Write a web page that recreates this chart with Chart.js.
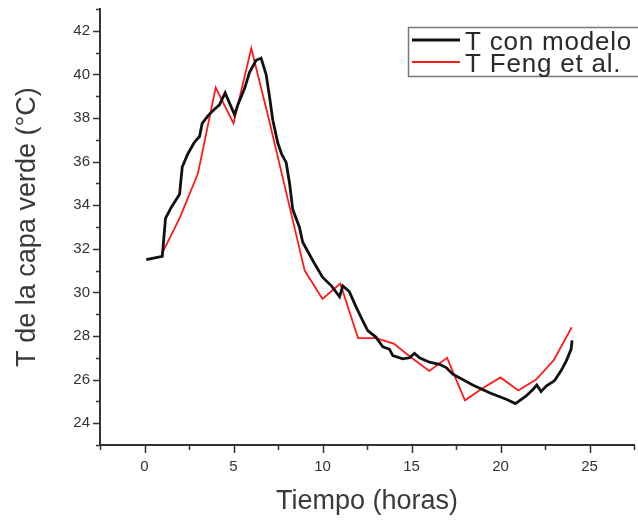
<!DOCTYPE html>
<html>
<head>
<meta charset="utf-8">
<script src="https://cdn.jsdelivr.net/npm/chart.js@4/dist/chart.umd.min.js"></script>
<style>
html,body{margin:0;padding:0;background:#fff;}
#wrap{width:638px;height:523px;}
</style>
</head>
<body>
<div id="wrap"><canvas id="c" width="638" height="523"></canvas></div>
<script>
// Series: T con modelo (model) — hours and temperatures
const modelHours = [0.1, 1.0, 1.18, 1.5, 1.97, 2.12, 2.43, 2.81, 3.09, 3.24, 3.56, 3.93, 4.21, 4.53,
  5.06, 5.24, 5.62, 5.9, 6.27, 6.55, 6.83, 7.02, 7.21, 7.49, 7.7, 7.96, 8.15, 8.33, 8.7, 8.89,
  9.46, 10.0, 10.5, 10.96, 11.14, 11.5, 11.88, 12.26, 12.54, 13.0, 13.39, 13.76, 13.95, 14.51,
  14.89, 15.17, 15.45, 16.01, 16.57, 16.95, 17.32, 18.44, 19.38, 20.32, 20.84, 21.44, 21.82,
  22.04, 22.28, 22.57, 23.03, 23.4, 23.69, 23.97, 24.02];
const modelTemps = [31.5, 31.65, 33.4, 33.9, 34.5, 35.75, 36.35, 36.9, 37.15, 37.75, 38.1, 38.4, 38.6, 39.15,
  38.15, 38.6, 39.35, 40.1, 40.65, 40.75, 40.0, 39.0, 37.9, 36.85, 36.35, 35.95, 35.0, 33.8, 33.0, 32.3,
  31.45, 30.7, 30.3, 29.8, 30.3, 30.05, 29.35, 28.7, 28.25, 27.95, 27.5, 27.4, 27.1, 26.95,
  27.0, 27.2, 27.0, 26.8, 26.7, 26.55, 26.25, 25.75, 25.4, 25.1, 24.9, 25.25, 25.55,
  25.75, 25.45, 25.7, 25.95, 26.4, 26.85, 27.4, 27.8];

// Series: T Feng et al.
const fengHours = [1, 2, 3, 4, 5, 6, 7, 8, 9, 10, 11, 12, 13, 14, 15, 16, 17, 18, 19, 20, 21, 22, 23, 24];
const fengTemps = [31.8, 33.45, 35.45, 39.4, 37.75, 41.2, 37.9, 34.45, 31.0, 29.7, 30.4, 27.9, 27.9, 27.65,
  27.0, 26.4, 27.0, 25.05, 25.6, 26.1, 25.5, 26.0, 26.9, 28.4];

const xTickValues = [0, 5, 10, 15, 20, 25];
const yTickValues = [24, 26, 28, 30, 32, 34, 36, 38, 40, 42];
const seriesLabels = ['T con modelo', 'T Feng et al.'];
const xTitle = 'Tiempo (horas)';
const yTitle = 'T de la capa verde (°C)';

const FONT = "'Liberation Sans', Arial, sans-serif";
const AXIS = '#333333';

const tickMarks = {
  id: 'tickMarks',
  afterDraw(chart) {
    const ctx = chart.ctx;
    const xs = chart.scales.x, ys = chart.scales.y;
    ctx.save();
    ctx.strokeStyle = AXIS;
    ctx.lineWidth = 1.5;
    ctx.beginPath();
    for (let v = ys.min; v <= ys.max; v += 1) {
      const y = Math.round(ys.getPixelForValue(v)) + 0.5;
      const len = v % 2 === 0 ? 6 : 3;
      ctx.moveTo(xs.left - len - 1, y);
      ctx.lineTo(xs.left, y);
    }
    for (let v = xs.min; v <= xs.max; v += 2.5) {
      const x = Math.round(xs.getPixelForValue(v)) + 0.5;
      const len = v % 5 === 0 ? 7 : 4;
      ctx.moveTo(x, ys.bottom);
      ctx.lineTo(x, ys.bottom + len + 1);
    }
    ctx.stroke();
    ctx.restore();
  }
};

const boxLegend = {
  id: 'boxLegend',
  afterDraw(chart) {
    const ctx = chart.ctx;
    ctx.save();
    ctx.strokeStyle = '#777';
    ctx.lineWidth = 1.5;
    ctx.strokeRect(408.5, 27.5, 240, 49);
    const rows = [40, 62];
    chart.data.datasets.forEach((ds, i) => {
      ctx.strokeStyle = ds.borderColor;
      ctx.lineWidth = ds.borderWidth;
      ctx.beginPath();
      ctx.moveTo(412, rows[i]);
      ctx.lineTo(460, rows[i]);
      ctx.stroke();
      ctx.fillStyle = '#2a2a2a';
      ctx.font = '26px ' + FONT;
      ctx.textBaseline = 'alphabetic';
      ctx.textAlign = 'left';
      if ('letterSpacing' in ctx) ctx.letterSpacing = '0.8px';
      ctx.fillText(ds.label, 465, rows[i] + 10);
    });
    ctx.restore();
  }
};

new Chart(document.getElementById('c'), {
  type: 'line',
  data: {
    datasets: [
      {
        label: seriesLabels[0],
        data: modelHours.map((h, i) => ({x: h, y: modelTemps[i]})),
        borderColor: '#111111',
        borderWidth: 2.8,
        pointRadius: 0,
        tension: 0,
        fill: false
      },
      {
        label: seriesLabels[1],
        data: fengHours.map((h, i) => ({x: h, y: fengTemps[i]})),
        borderColor: '#ff1a1a',
        borderWidth: 1.8,
        pointRadius: 0,
        tension: 0,
        fill: false
      }
    ]
  },
  options: {
    responsive: false,
    animation: false,
    events: [],
    layout: {padding: {left: 0, right: 4, top: 9, bottom: 0}},
    plugins: {legend: {display: false}, tooltip: {enabled: false}, title: {display: false}},
    scales: {
      x: {
        type: 'linear',
        min: -2.5,
        max: 27.5,
        afterFit(s) { s.height = 78; s.paddingLeft = 0; s.paddingRight = 0; },
        afterBuildTicks(s) { s.ticks = xTickValues.map(v => ({value: v})); },
        ticks: {
          padding: 13,
          color: '#333',
          font: {family: FONT, size: 15},
          maxRotation: 0,
          autoSkip: false,
          callback: v => String(v)
        },
        grid: {display: true, drawOnChartArea: false, drawTicks: false},
        border: {display: true, color: AXIS, width: 2},
        title: {
          display: true,
          text: xTitle,
          color: '#3a3a3a',
          font: {family: FONT, size: 27},
          padding: {top: 0, bottom: 5}
        }
      },
      y: {
        type: 'linear',
        min: 23,
        max: 43,
        afterFit(s) { s.width = 100; s.paddingTop = 0; s.paddingBottom = 0; },
        afterBuildTicks(s) { s.ticks = yTickValues.map(v => ({value: v})); },
        ticks: {
          padding: 10,
          color: '#333',
          font: {family: FONT, size: 15},
          autoSkip: false,
          callback: v => String(v)
        },
        grid: {display: true, drawOnChartArea: false, drawTicks: false},
        border: {display: true, color: AXIS, width: 2},
        title: {
          display: true,
          text: yTitle,
          color: '#3a3a3a',
          font: {family: FONT, size: 27},
          padding: {top: 11, bottom: 0}
        }
      }
    }
  },
  plugins: [tickMarks, boxLegend]
});
</script>
</body>
</html>
